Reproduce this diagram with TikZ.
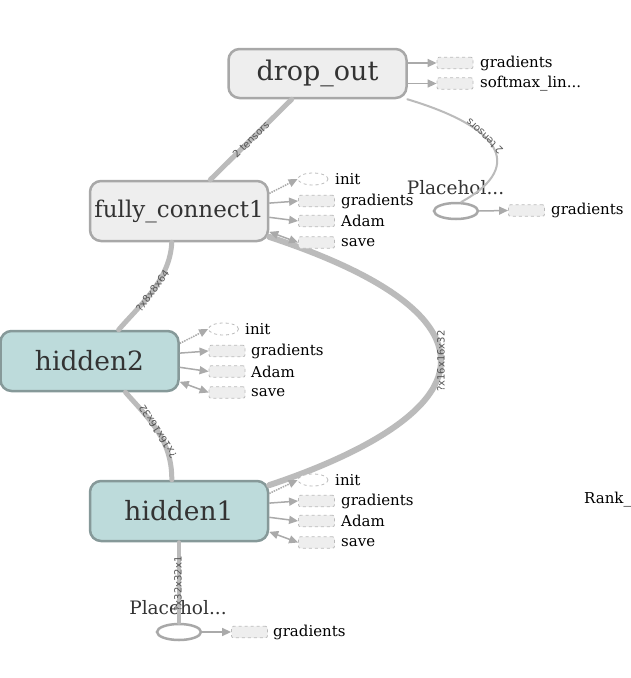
\documentclass[tikz,border=0pt]{standalone}
\usepackage{fontspec}
\setmainfont{DejaVu Serif}
\newfontfamily\edgefont{DejaVu Sans}
\usetikzlibrary{shapes.geometric,arrows.meta}
\definecolor{edgec}{HTML}{BBBBBB}
\definecolor{arrc}{HTML}{AAAAAA}
\definecolor{graybd}{HTML}{A8A8A8}
\definecolor{grayfill}{HTML}{EEEEEE}
\definecolor{tealfill}{HTML}{BDDBDB}
\definecolor{tealbd}{HTML}{869999}
\definecolor{nodetext}{HTML}{333333}
\definecolor{auxbd}{HTML}{BBBBBB}
\definecolor{elabel}{HTML}{555555}
\begin{document}
\begin{tikzpicture}[x=1pt,y=-1pt,
 opnode/.style={rectangle, rounded corners=11pt, line width=2.5pt, minimum width=178pt, minimum height=60pt, inner sep=0pt, text=nodetext},
 graynode/.style={opnode, draw=graybd, fill=grayfill},
 tealnode/.style={opnode, draw=tealbd, fill=tealfill},
 auxbox/.style={rectangle, rounded corners=2pt, dashed, draw=auxbd, fill=grayfill, line width=0.8pt, minimum width=36pt, minimum height=11.5pt, inner sep=0pt},
 auxell/.style={ellipse, dashed, draw=auxbd, fill=white, line width=0.8pt, minimum width=30pt, minimum height=12pt, inner sep=0pt},
 auxlabel/.style={anchor=west, inner sep=0pt, font=\fontsize{15}{18}\selectfont},
 phell/.style={ellipse, draw=graybd, fill=white, line width=2.5pt, minimum width=44pt, minimum height=16pt, inner sep=0pt},
 phlabel/.style={inner sep=0pt, font=\fontsize{18.5}{22}\selectfont, text=nodetext},
 auxarrow/.style={draw=arrc, line width=1.5pt, -{Triangle[length=9pt,width=8pt]}},
 auxdbl/.style={draw=arrc, line width=1.5pt, {Triangle[length=9pt,width=8pt]}-{Triangle[length=9pt,width=8pt]}},
 auxdot/.style={draw=arrc, line width=1.5pt, densely dotted, -{Triangle[length=9pt,width=8pt]}},
 dataedge/.style={draw=edgec, line cap=round},
 elab/.style={font=\edgefont\fontsize{10}{12}\selectfont, text=elabel, inner sep=0pt, sloped, allow upside down}
]
\useasboundingbox (0,0) rectangle (630,678);
\fill[white] (0,0) rectangle (630,678);

% main op nodes
\node[graynode, minimum height=49pt, font=\fontsize{27}{32}\selectfont] (do) at (317.5,73.5) {drop\_out};
\node[graynode, font=\fontsize{23}{28}\selectfont] (fc1) at (179,211) {fully\_connect1};
\node[tealnode, font=\fontsize{26.5}{32}\selectfont] (h2) at (89.5,361) {hidden2};
\node[tealnode, font=\fontsize{26.5}{32}\selectfont] (h1) at (179,511) {hidden1};

% placeholders
\node[phell] (ph1) at (456,211) {};
\node[phlabel] (ph1l) at (455.5,188) {Placehol...};
\node[phell] (ph2) at (179,632) {};
\node[phlabel] (ph2l) at (178,608) {Placehol...};

% data edges
\draw[dataedge, line width=5pt] (fc1.45) -- node[elab, pos=0.5] {2 tensors} (do.225);
\draw[dataedge, line width=5pt] (h2.47) .. controls (140,305) and (170,280) .. node[elab, pos=0.5] {?x8x8x64} (fc1.257);
\draw[dataedge, line width=5pt] (h1.103) .. controls (172,440) and (150,420) .. node[elab, pos=0.5] {?x16x16x32} (h2.-41);
\coordinate (lc) at (441,361);
\draw[dataedge, line width=6pt] (h1.16) .. controls (330,465) and (441,420) .. (lc) .. controls (441,300) and (330,257) .. (fc1.-16);
\node[elab, rotate=90, sloped=false] (lcl) at (lc) {?x16x16x32};
\draw[dataedge, line width=4pt] (ph2.north) -- (h1.south);
\node[elab, rotate=90, sloped=false] (ph2e) at (178,584) {?x32x32x1};
\draw[dataedge, line width=2pt] (ph1.60) .. controls (520,170) and (510,130) .. node[elab, pos=0.63] {2 tensors} (do.-16);

% drop_out outputs
\node[auxbox] (dog) at (455,63) {};
\node[auxbox] (dos) at (455,83.5) {};
\node[auxlabel] (dogl) at (480,63) {gradients};
\node[auxlabel] (dosl) at (480,83.5) {softmax\_lin...};
\draw[auxarrow] (do.east |- dog) -- (dog.west);
\draw[auxarrow] (do.east |- dos) -- (dos.west);

% placeholder outputs
\node[auxbox] (ph1g) at (526.5,210.5) {};
\node[auxlabel] (ph1gl) at (551,210.5) {gradients};
\draw[auxarrow] (ph1.east) -- (ph1g.west);
\node[auxbox] (ph2g) at (249.5,632) {};
\node[auxlabel] (ph2gl) at (273,632) {gradients};
\draw[auxarrow] (ph2.east) -- (ph2g.west);

% fully_connect1 auxiliaries
\node[auxell] (fci) at (313,179) {};
\node[auxbox] (fcg) at (316.5,201) {};
\node[auxbox] (fca) at (316.5,221) {};
\node[auxbox] (fcs) at (316.5,242.5) {};
\node[auxlabel] (fcil) at (335,179) {init};
\node[auxlabel] (fcgl) at (341,201) {gradients};
\node[auxlabel] (fcal) at (341,221) {Adam};
\node[auxlabel] (fcsl) at (341,242.5) {save};
\draw[auxdot] (fc1.11) -- (fci.west);
\draw[auxarrow] (fc1.5) -- (fcg.west);
\draw[auxarrow] (fc1.-4) -- (fca.west);
\draw[auxdbl] (fc1.-13) -- (fcs.west);

% hidden2 auxiliaries
\node[auxell] (h2i) at (223.5,329) {};
\node[auxbox] (h2g) at (227,351) {};
\node[auxbox] (h2a) at (227,371.5) {};
\node[auxbox] (h2s) at (227,392.5) {};
\node[auxlabel] (h2il) at (245,329) {init};
\node[auxlabel] (h2gl) at (251,351) {gradients};
\node[auxlabel] (h2al) at (251,371.5) {Adam};
\node[auxlabel] (h2sl) at (251,392.5) {save};
\draw[auxdot] (h2.11) -- (h2i.west);
\draw[auxarrow] (h2.5) -- (h2g.west);
\draw[auxarrow] (h2.-4) -- (h2a.west);
\draw[auxdbl] (h2.-13) -- (h2s.west);

% hidden1 auxiliaries
\node[auxell] (h1i) at (313,480) {};
\node[auxbox] (h1g) at (316.5,501) {};
\node[auxbox] (h1a) at (316.5,521) {};
\node[auxbox] (h1s) at (316.5,542.5) {};
\node[auxlabel] (h1il) at (335,480) {init};
\node[auxlabel] (h1gl) at (341,501) {gradients};
\node[auxlabel] (h1al) at (341,521) {Adam};
\node[auxlabel] (h1sl) at (341,542.5) {save};
\draw[auxdot] (h1.11) -- (h1i.west);
\draw[auxarrow] (h1.5) -- (h1g.west);
\draw[auxarrow] (h1.-4) -- (h1a.west);
\draw[auxdbl] (h1.-13) -- (h1s.west);

% stray label at the right edge
\node[auxlabel] (rank) at (584,500) {Rank\_};
\end{tikzpicture}
\end{document}
